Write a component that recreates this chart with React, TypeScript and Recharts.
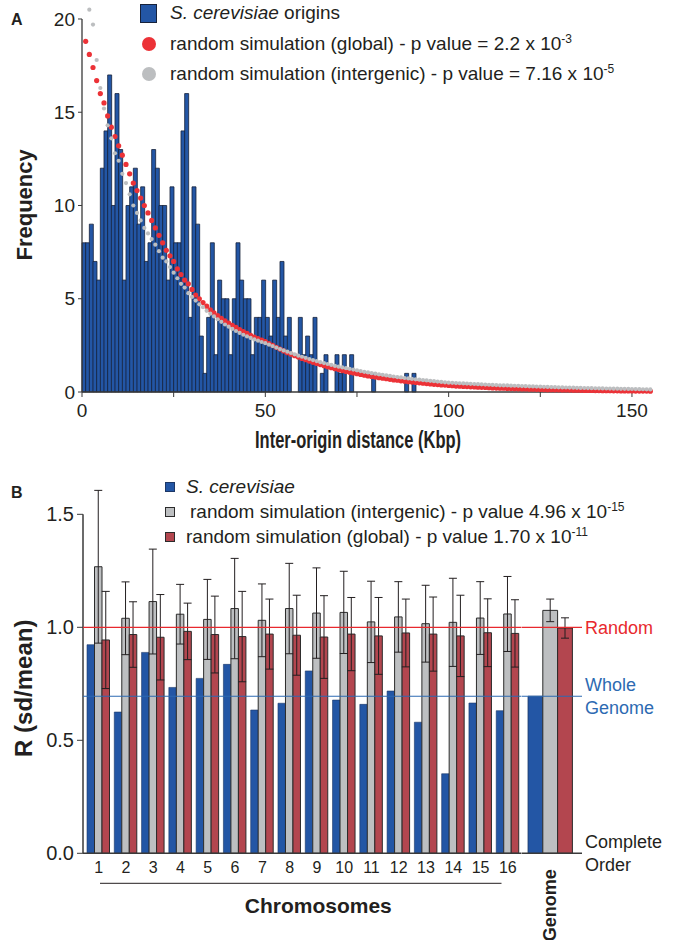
import {
  Bar,
  BarChart,
  ComposedChart,
  ErrorBar,
  Legend,
  ReferenceLine,
  Scatter,
  XAxis,
  YAxis,
} from "recharts";

const FONT = '"Liberation Sans", Arial, Helvetica, sans-serif';
const NARROW = '"Liberation Sans Narrow", "Liberation Sans", Arial, sans-serif';
const INK = "#231f20";
const AXIS = "#3a3a3a";
const ORIGIN_BLUE = "#2356a5";
const ORIGIN_EDGE = "#17223a";
const SIM_RED = "#ec3237";
const SIM_GRAY = "#bcbec0";
const BAR_GRAY = "#bdbfc1";
const BAR_RED = "#b3464f";
const BAR_EDGE = "#2b2b2b";
const RANDOM_RED = "#e8292e";
const GENOME_BLUE = "#2d6ab2";

// ---- panel A: inter-origin distances, 1 Kbp bins starting at 0 ----
const ORIGIN_COUNTS = [
  8, 8, 9, 7, 6, 12, 14, 17, 10, 16,
  13, 6, 10, 11, 12, 9, 11, 7, 8, 13,
  12, 10, 10, 6, 11, 8, 8, 14, 16, 4,
  11, 9, 3, 1, 4, 8, 2, 6, 5, 5,
  2, 5, 8, 6, 5, 5, 2, 4, 4, 6,
  4, 3, 6, 4, 7, 3, 4, 0, 0, 4,
  2, 3, 2, 4, 0, 1, 2, 0, 0, 2,
  1, 2, 0, 2, 0, 0, 0, 0, 0, 1,
  0, 0, 0, 0, 0, 0, 0, 0, 1, 0,
  1,
];

// random simulation (global), one point per Kbp from 1 to 155
const GLOBAL_SIM = [
  18.8, 18.1, 17.4, 16.7, 16.0, 15.5, 14.8, 14.2, 13.7, 13.2,
  12.7, 12.2, 11.7, 11.2, 10.8, 10.4, 10.0, 9.6, 9.2, 8.8,
  8.4, 8.0, 7.6, 7.3, 7.0, 6.6, 6.3, 6.0, 5.8, 5.5,
  5.2, 5.0, 4.8, 4.6, 4.4,
  4.25, 4.1, 3.95, 3.82, 3.7, 3.58, 3.46, 3.35, 3.24, 3.14, 3.04, 2.95, 2.86, 2.78, 2.7,
  2.6, 2.5, 2.4, 2.3, 2.2, 2.11, 2.03, 1.95, 1.87, 1.8,
  1.73, 1.66, 1.59, 1.53, 1.47, 1.41, 1.35, 1.3, 1.25, 1.2,
  1.15, 1.1, 1.06, 1.02, 0.98, 0.94, 0.9, 0.86, 0.83, 0.8,
  0.77, 0.74, 0.71, 0.68, 0.65, 0.63, 0.6, 0.58, 0.55, 0.53,
  0.51, 0.49, 0.47, 0.45, 0.43, 0.41, 0.4, 0.38, 0.37, 0.35,
  0.34, 0.32, 0.31, 0.3, 0.29, 0.28, 0.27, 0.26, 0.25, 0.24,
  0.23, 0.22, 0.21, 0.205, 0.2, 0.19, 0.185, 0.178, 0.172, 0.166,
  0.16, 0.154, 0.148, 0.142, 0.137, 0.132, 0.127, 0.122, 0.118, 0.114,
  0.11, 0.106, 0.102, 0.098, 0.094, 0.09, 0.087, 0.084, 0.081, 0.078,
  0.075, 0.072, 0.07, 0.067, 0.065, 0.062, 0.06, 0.058, 0.056, 0.054,
  0.052, 0.05, 0.048, 0.047, 0.045,
];

// random simulation (intergenic), one point per Kbp from 2 to 155
const INTERGENIC_SIM = [
  20.5, 19.7, 17.8, 16.3, 15.2, 14.3, 13.6, 12.8, 12.4,
  11.7, 11.2, 10.6, 10.0, 9.6, 9.2, 8.8, 8.5, 8.2, 7.9,
  7.55, 7.2, 7.0, 6.7, 6.4, 6.1, 5.8, 5.6, 5.3, 5.1,
  4.9, 4.7, 4.55, 4.35, 4.2, 4.05, 3.9, 3.76, 3.62, 3.5,
  3.38, 3.27, 3.17, 3.07, 2.98, 2.9, 2.82, 2.75, 2.68, 2.62,
  2.54, 2.46, 2.38, 2.3, 2.23, 2.16, 2.09, 2.02, 1.95, 1.89,
  1.83, 1.77, 1.71, 1.66, 1.6, 1.55, 1.5, 1.45, 1.4, 1.36,
  1.32, 1.28, 1.24, 1.2, 1.16, 1.12, 1.08, 1.05, 1.01, 0.98,
  0.95, 0.92, 0.89, 0.86, 0.83, 0.8, 0.78, 0.75, 0.73, 0.7,
  0.68, 0.66, 0.64, 0.62, 0.6, 0.58, 0.56, 0.54, 0.52, 0.5,
  0.49, 0.48, 0.47, 0.46, 0.45, 0.44, 0.43, 0.42, 0.41, 0.4,
  0.39, 0.38, 0.37, 0.36, 0.355, 0.35, 0.34, 0.335, 0.33, 0.32,
  0.313, 0.306, 0.299, 0.292, 0.285, 0.278, 0.271, 0.264, 0.257, 0.25,
  0.245, 0.24, 0.235, 0.23, 0.225, 0.22, 0.215, 0.21, 0.205, 0.2,
  0.196, 0.192, 0.188, 0.184, 0.18, 0.176, 0.172, 0.168, 0.164, 0.16,
  0.156, 0.152, 0.148, 0.144, 0.14,
];

const A_TICKS_X = [0, 25, 50, 75, 100, 125, 150];
const A_TICKS_Y = [0, 5, 10, 15, 20];

// ---- panel B: R (sd/mean) per chromosome ----
const CHROMOSOMES = ["1", "2", "3", "4", "5", "6", "7", "8", "9", "10", "11", "12", "13", "14", "15", "16"];
const SCER_R = [0.923, 0.625, 0.889, 0.734, 0.774, 0.836, 0.634, 0.664, 0.807, 0.678, 0.659, 0.718, 0.58, 0.352, 0.665, 0.631];
const INTERGENIC_R = [1.268, 1.04, 1.114, 1.058, 1.035, 1.083, 1.031, 1.083, 1.063, 1.066, 1.024, 1.046, 1.016, 1.022, 1.041, 1.059];
const INTERGENIC_ERR = [0.338, 0.161, 0.232, 0.132, 0.177, 0.222, 0.161, 0.2, 0.2, 0.182, 0.18, 0.156, 0.17, 0.195, 0.161, 0.166];
const GLOBAL_R = [0.944, 0.968, 0.956, 0.982, 0.968, 0.959, 0.97, 0.965, 0.957, 0.97, 0.962, 0.975, 0.97, 0.962, 0.976, 0.973];
const GLOBAL_ERR = [0.215, 0.145, 0.189, 0.125, 0.17, 0.2, 0.155, 0.177, 0.183, 0.162, 0.17, 0.15, 0.164, 0.18, 0.15, 0.149];

const GENOME_SCER = 0.695;
const GENOME_INTERGENIC = 1.075;
const GENOME_INTERGENIC_ERR = 0.05;
const GENOME_GLOBAL = 0.997;
const GENOME_GLOBAL_ERR = 0.045;
const RANDOM_R = 1.0;

const B_TICKS_Y = [0, 0.5, 1, 1.5];
const B_DOMAIN: [number, number] = [0, 1.62];

const histRows = ORIGIN_COUNTS.map((count, i) => ({ kbp: i + 0.5, count }));
const globalRows = GLOBAL_SIM.map((freq, i) => ({ kbp: i + 1, freq }));
const intergenicRows = INTERGENIC_SIM.map((freq, i) => ({ kbp: i + 2, freq }));

const chromRows = CHROMOSOMES.map((chrom, i) => ({
  chrom,
  scer: SCER_R[i],
  inter: INTERGENIC_R[i],
  interErr: INTERGENIC_ERR[i],
  glob: GLOBAL_R[i],
  globErr: GLOBAL_ERR[i],
}));

const genomeRows = [
  {
    chrom: "Genome",
    scer: GENOME_SCER,
    inter: GENOME_INTERGENIC,
    interErr: GENOME_INTERGENIC_ERR,
    glob: GENOME_GLOBAL,
    globErr: GENOME_GLOBAL_ERR,
  },
];

const dot = (r: number, fill: string) => (props: any) =>
  <circle cx={props.cx} cy={props.cy} r={r} fill={fill} />;

function Sup({ children }: { children: string }) {
  return <sup style={{ fontSize: 12, lineHeight: 0 }}>{children}</sup>;
}

function OriginsLegend() {
  const row = { display: "flex", alignItems: "center", height: 30.5 } as const;
  const cell = { width: 17, marginRight: 13, display: "flex", justifyContent: "center", flex: "none" } as const;
  return (
    <div style={{ fontFamily: FONT, fontSize: 19, color: INK, whiteSpace: "nowrap" }}>
      <div style={row}>
        <span style={cell}>
          <span style={{ width: 17, height: 19, background: ORIGIN_BLUE, border: `1px solid ${ORIGIN_EDGE}`, boxSizing: "border-box" }} />
        </span>
        <span><i>S. cerevisiae</i> origins</span>
      </div>
      <div style={row}>
        <span style={cell}>
          <span style={{ width: 14, height: 14, borderRadius: 7, background: SIM_RED }} />
        </span>
        <span>random simulation (global) - p value = 2.2 x 10<Sup>-3</Sup></span>
      </div>
      <div style={row}>
        <span style={cell}>
          <span style={{ width: 14, height: 14, borderRadius: 7, background: SIM_GRAY }} />
        </span>
        <span>random simulation (intergenic) - p value = 7.16 x 10<Sup>-5</Sup></span>
      </div>
    </div>
  );
}

function RatioLegend() {
  const row = { display: "flex", alignItems: "center", height: 25 } as const;
  const box = (fill: string, edge: string) => (
    <span style={{ width: 10, height: 10, background: fill, border: `1px solid ${edge}`, boxSizing: "border-box", marginRight: 11, flex: "none" }} />
  );
  return (
    <div style={{ fontFamily: FONT, fontSize: 19, color: INK, whiteSpace: "nowrap" }}>
      <div style={row}>
        {box(ORIGIN_BLUE, "#1d3766")}
        <i>S. cerevisiae</i>
      </div>
      <div style={row}>
        {box(BAR_GRAY, BAR_EDGE)}
        <span style={{ paddingLeft: 4 }}>random simulation (intergenic) - p value 4.96 x 10<Sup>-15</Sup></span>
      </div>
      <div style={row}>
        {box(BAR_RED, BAR_EDGE)}
        <span>random simulation (global) - p value 1.70 x 10<Sup>-11</Sup></span>
      </div>
    </div>
  );
}

const verticalTitle = (text: string, size: number, shift: number) => (props: any) => {
  const vb = props.viewBox ?? {};
  const cx = 24;
  const cy = vb.y + vb.height / 2 + shift;
  return (
    <text x={cx} y={cy} transform={`rotate(-90, ${cx}, ${cy})`} textAnchor="middle" dy="0.35em"
      fill={INK} fontFamily={FONT} fontSize={size} fontWeight="bold">
      {text}
    </text>
  );
};

function distanceTitle(props: any) {
  const vb = props.viewBox ?? {};
  return (
    <text x={358} y={vb.y + 56} textAnchor="middle" fill={INK} fontFamily={NARROW} fontSize={23}
      fontWeight="bold" textLength={206} lengthAdjust="spacingAndGlyphs">
      Inter-origin distance (Kbp)
    </text>
  );
}

function chromosomesTitle(props: any) {
  const vb = props.viewBox ?? {};
  return (
    <g>
      <line x1={vb.x + 17} x2={vb.x + vb.width - 20} y1={vb.y + 30} y2={vb.y + 30} stroke={INK} strokeWidth={1} />
      <text x={vb.x + vb.width / 2 + 16} y={vb.y + 60} textAnchor="middle" fill={INK} fontFamily={FONT}
        fontSize={21} fontWeight="bold">
        Chromosomes
      </text>
    </g>
  );
}

function GenomeTick(props: any) {
  const { x, y, payload } = props;
  return (
    <text x={x} y={y} transform={`rotate(-90, ${x}, ${y})`} textAnchor="end" dx={-8} dy="0.35em"
      fill={INK} fontFamily={FONT} fontSize={18} fontWeight="bold">
      {payload.value}
    </text>
  );
}

const sideLabel = (lines: string[], color: string) => (props: any) => {
  const vb = props.viewBox ?? {};
  const x = (vb.x ?? 0) + (vb.width ?? 0) + 3;
  const lh = 22.5;
  const y0 = (vb.y ?? 0) - ((lines.length - 1) * lh) / 2;
  return (
    <text fill={color} fontFamily={FONT} fontSize={18}>
      {lines.map((l, i) => (
        <tspan key={l} x={x} y={y0 + i * lh} dy="0.35em">{l}</tspan>
      ))}
    </text>
  );
};

function PanelA() {
  return (
    <ComposedChart width={674} height={460} data={histRows} barCategoryGap={0}
      margin={{ top: 7.8, right: 23.7, bottom: 8, left: 0 }}>
      <XAxis dataKey="kbp" type="number" domain={[0, 155]} ticks={A_TICKS_X} interval={0}
        tickFormatter={(v) => (v % 50 === 0 ? String(v) : "")}
        height={60} tickSize={5} tickMargin={7}
        tickLine={{ stroke: AXIS }} axisLine={{ stroke: AXIS, strokeWidth: 1.3 }}
        tick={{ fill: INK, fontSize: 19, fontFamily: FONT }}
        label={{ content: distanceTitle }} />
      <XAxis xAxisId="sim" dataKey="kbp" type="number" domain={[0, 155]} hide />
      <YAxis width={82} domain={[0, 20.6]} ticks={A_TICKS_Y} interval={0} axisLine={false}
        tickSize={4} tickMargin={3} tickLine={{ stroke: AXIS }}
        tick={{ fill: INK, fontSize: 19, fontFamily: FONT }}
        label={{ content: verticalTitle("Frequency", 22, 5) }} />
      <ReferenceLine segment={[{ x: 0, y: 0 }, { x: 0, y: 20 }]} stroke={AXIS} strokeWidth={1.3} />
      <Legend content={() => <OriginsLegend />} layout="vertical" align="center" verticalAlign="middle"
        wrapperStyle={{ left: 140, top: -2, width: 520 }} />
      <Bar dataKey="count" name="S. cerevisiae origins" fill={ORIGIN_BLUE} stroke={ORIGIN_EDGE}
        strokeWidth={0.8} isAnimationActive={false} />
      <Scatter xAxisId="sim" data={globalRows} dataKey="freq" name="random simulation (global)"
        shape={dot(2.6, SIM_RED)} isAnimationActive={false} />
      <Scatter xAxisId="sim" data={intergenicRows} dataKey="freq" name="random simulation (intergenic)"
        shape={dot(2.1, SIM_GRAY)} isAnimationActive={false} />
    </ComposedChart>
  );
}

const B_MARGIN_TOP = 27.2;
const B_MARGIN_BOTTOM = 6.7;

function PanelBChromosomes() {
  return (
    <BarChart width={521.5} height={480} data={chromRows} barGap={0} barSize={7.5}
      margin={{ top: B_MARGIN_TOP, right: 0, bottom: B_MARGIN_BOTTOM, left: 0 }}>
      <XAxis dataKey="chrom" height={80} interval={0} tickLine={false} padding={{ left: 2, right: 0 }}
        axisLine={{ stroke: AXIS, strokeWidth: 1.5 }}
        tick={{ fill: INK, fontSize: 16, fontFamily: FONT }}
        label={{ content: chromosomesTitle }} />
      <XAxis xAxisId="frame" type="number" domain={[0, 1]} hide />
      <YAxis width={83} domain={B_DOMAIN} ticks={B_TICKS_Y} interval={0} axisLine={false}
        tickFormatter={(v) => Number(v).toFixed(1)} tickSize={6} tickMargin={3}
        tickLine={{ stroke: AXIS }} tick={{ fill: INK, fontSize: 20, fontFamily: FONT }}
        label={{ content: verticalTitle("R (sd/mean)", 24, 18) }} />
      <ReferenceLine xAxisId="frame" segment={[{ x: 0, y: 0 }, { x: 0, y: 1.5 }]} stroke={AXIS} strokeWidth={1.5} />
      <Legend content={() => <RatioLegend />} layout="vertical" align="center" verticalAlign="middle"
        wrapperStyle={{ left: 165, top: 14.5, width: 500 }} />
      <Bar dataKey="scer" fill={ORIGIN_BLUE} stroke="#1d3766" strokeWidth={0.6} isAnimationActive={false} />
      <Bar dataKey="inter" fill={BAR_GRAY} stroke={BAR_EDGE} strokeWidth={1} isAnimationActive={false}>
        <ErrorBar dataKey="interErr" width={4} stroke={INK} strokeWidth={1} />
      </Bar>
      <Bar dataKey="glob" fill={BAR_RED} stroke={BAR_EDGE} strokeWidth={1} isAnimationActive={false}>
        <ErrorBar dataKey="globErr" width={4} stroke={INK} strokeWidth={1} />
      </Bar>
      <ReferenceLine y={RANDOM_R} stroke={RANDOM_RED} strokeWidth={1.2} />
      <ReferenceLine y={GENOME_SCER} stroke={GENOME_BLUE} strokeWidth={1.2} />
    </BarChart>
  );
}

function PanelBGenome() {
  return (
    <BarChart width={152.5} height={480} data={genomeRows} barGap={0} barSize={14.8}
      margin={{ top: B_MARGIN_TOP, right: 92.5, bottom: B_MARGIN_BOTTOM, left: 0 }}>
      <XAxis dataKey="chrom" height={80} interval={0} tickLine={false} padding={{ left: 0, right: 4.5 }}
        axisLine={{ stroke: AXIS, strokeWidth: 1.5 }} tick={<GenomeTick />} />
      <YAxis hide domain={B_DOMAIN} />
      <Bar dataKey="scer" fill={ORIGIN_BLUE} stroke="#1d3766" strokeWidth={0.8} isAnimationActive={false} />
      <Bar dataKey="inter" fill={BAR_GRAY} stroke={BAR_EDGE} strokeWidth={1} isAnimationActive={false}>
        <ErrorBar dataKey="interErr" width={4} stroke={INK} strokeWidth={1} />
      </Bar>
      <Bar dataKey="glob" fill={BAR_RED} stroke={BAR_EDGE} strokeWidth={1} isAnimationActive={false}>
        <ErrorBar dataKey="globErr" width={4} stroke={INK} strokeWidth={1} />
      </Bar>
      <ReferenceLine y={RANDOM_R} stroke={RANDOM_RED} strokeWidth={1.2}
        label={{ content: sideLabel(["Random"], RANDOM_RED) }} />
      <ReferenceLine y={GENOME_SCER} stroke={GENOME_BLUE} strokeWidth={1.2}
        label={{ content: sideLabel(["Whole", "Genome"], GENOME_BLUE) }} />
      <ReferenceLine y={0} stroke="none"
        label={{ content: sideLabel(["Complete", "Order"], INK) }} />
    </BarChart>
  );
}

const tag = (left: number, top: number) =>
  ({ position: "absolute", left, top, fontFamily: FONT, fontWeight: "bold", fontSize: 16, color: INK } as const);

export default function App() {
  return (
    <div style={{ position: "absolute", left: 0, top: 0, width: 674, height: 940, background: "#fff", overflow: "hidden" }}>
      <div style={{ position: "absolute", left: 0, top: 0 }}>
        <PanelA />
      </div>
      <div style={{ position: "absolute", left: 0, top: 460 }}>
        <PanelBChromosomes />
      </div>
      <div style={{ position: "absolute", left: 521.5, top: 460 }}>
        <PanelBGenome />
      </div>
      <div style={tag(11, 11)}>A</div>
      <div style={tag(11, 484)}>B</div>
    </div>
  );
}
